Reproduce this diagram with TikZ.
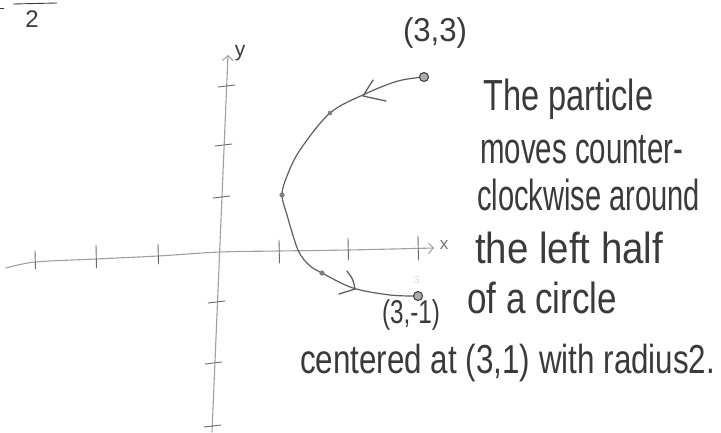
\documentclass[tikz,border=0pt]{standalone}
\usepackage{fontspec}
\setmainfont{Liberation Sans}
\usetikzlibrary{arrows.meta}
\definecolor{pencil}{HTML}{3A3A3A}
\definecolor{lightpencil}{HTML}{A0A0A0}
\definecolor{curvepencil}{HTML}{5E5E5E}
\newcommand\hwline[2]{\resizebox{#1pt}{1.45\height}{#2}}
\newcommand\hwlinelow[2]{\resizebox{#1pt}{1.35\height}{#2}}
\newcommand\hwlabel[2]{\resizebox{#1pt}{1.1\height}{#2}}
\begin{document}
\begin{tikzpicture}[x=1pt,y=-1pt,
  axisline/.style={lightpencil, line width=1.1pt, line cap=round},
  tickmark/.style={pencil!75, line width=0.9pt, line cap=round},
  pathline/.style={curvepencil, line width=1.2pt, line cap=round, line join=round},
  hw/.style={text=pencil, font=\fontsize{30}{30}\selectfont, inner sep=0pt},
  axistip/.style={-{Straight Barb[length=5pt,width=11pt,line width=1pt]}},
  smalldot/.style={fill=curvepencil!80},
  enddot/.style={fill=gray!65, draw=pencil, line width=1pt}
]
\useasboundingbox (0,0) rectangle (721,432);

% ---------- top-left fragment ----------
\draw[pencil, line width=0.9pt] (13,4) -- (57,3);
\draw[pencil, line width=0.9pt] (0,8) -- (4,8);
\node[hw, font=\fontsize{24}{24}\selectfont] (frag) at (32,19) {2};

% ---------- axes ----------
\coordinate (ybot) at (212,432);
\coordinate (ytop) at (228,55);
\draw[axisline, axistip] (ybot) -- (ytop);
\node[hw, font=\fontsize{21}{21}\selectfont] (ylab) at (240,53) {y};

\coordinate (xleft) at (6,268);
\coordinate (xright) at (434,248);
\draw[axisline, axistip] plot[smooth, tension=0.5] coordinates
  {(xleft) (35,262) (96,259) (158,256) (220,252) (279,251) (348,250) (xright)};
\node[hw, font=\fontsize{17}{17}\selectfont, text=pencil!70] (xlab) at (444,245) {x};

% x ticks
\foreach \tx/\ta/\tb in {35/251/269, 96/245/268, 158/244/264, 279/240/263, 348/238/260, 418/236/260}
  \draw[tickmark] (\tx,\ta) -- (\tx+0.5,\tb);
% y ticks
\foreach \ty/\tc in {86/227, 145/224, 197/222, 302/217, 363/214, 426/213}
  \draw[tickmark] (\tc-9,\ty+1) -- (\tc+8,\ty-1);

% ---------- particle path ----------
\coordinate (start) at (424,77);
\coordinate (m1) at (330,113);
\coordinate (m2) at (282,195);
\coordinate (m3) at (322,273);
\coordinate (finish) at (418,296);

\draw[pathline] plot[smooth, tension=0.55] coordinates
  {(start) (398,81) (365,94) (m1) (300,150) (287,176) (m2) (287,215) (298,250) (309,265) (m3) (353,288) (390,295) (finish)};

% direction marks
\draw[pathline, line width=1.3pt] (373,80) -- (363,96) -- (386,101);
\draw[pathline, line width=1.3pt] (347,271) .. controls (353,279) .. (355,289) -- (339,294);

% plotted points
\fill[smalldot] (m1) circle (2.3pt);
\fill[smalldot] (m2) circle (2.6pt);
\fill[smalldot] (m3) circle (2.6pt);
\filldraw[enddot] (start) circle (4.5pt);
\filldraw[enddot] (finish) circle (4.5pt);

\node[text=gray!30, font=\fontsize{10}{10}\selectfont] (ghost) at (417,280) {3};

% ---------- labels ----------
\node[hw] (lab33) at (435,33) {\hwlabel{64}{(3,3)}};
\node[hw] (lab31) at (411,315) {\hwlabel{58}{(3,-1)}};

% ---------- description ----------
\node[hw, anchor=base west] (t1) at (483,110) {\hwline{170}{The particle}};
\node[hw, anchor=base west] (t2) at (480,163) {\hwline{203}{moves counter-}};
\node[hw, anchor=base west] (t3) at (477,210) {\hwline{223}{clockwise around}};
\node[hw, anchor=base west] (t4) at (475,263) {\hwline{188}{the left half}};
\node[hw, anchor=base west] (t5) at (467,313) {\hwline{150}{of a circle}};
\node[hw, anchor=base west] (t6) at (300,373) {\hwlinelow{415}{centered at (3,1) with radius2.}};
\end{tikzpicture}
\end{document}
